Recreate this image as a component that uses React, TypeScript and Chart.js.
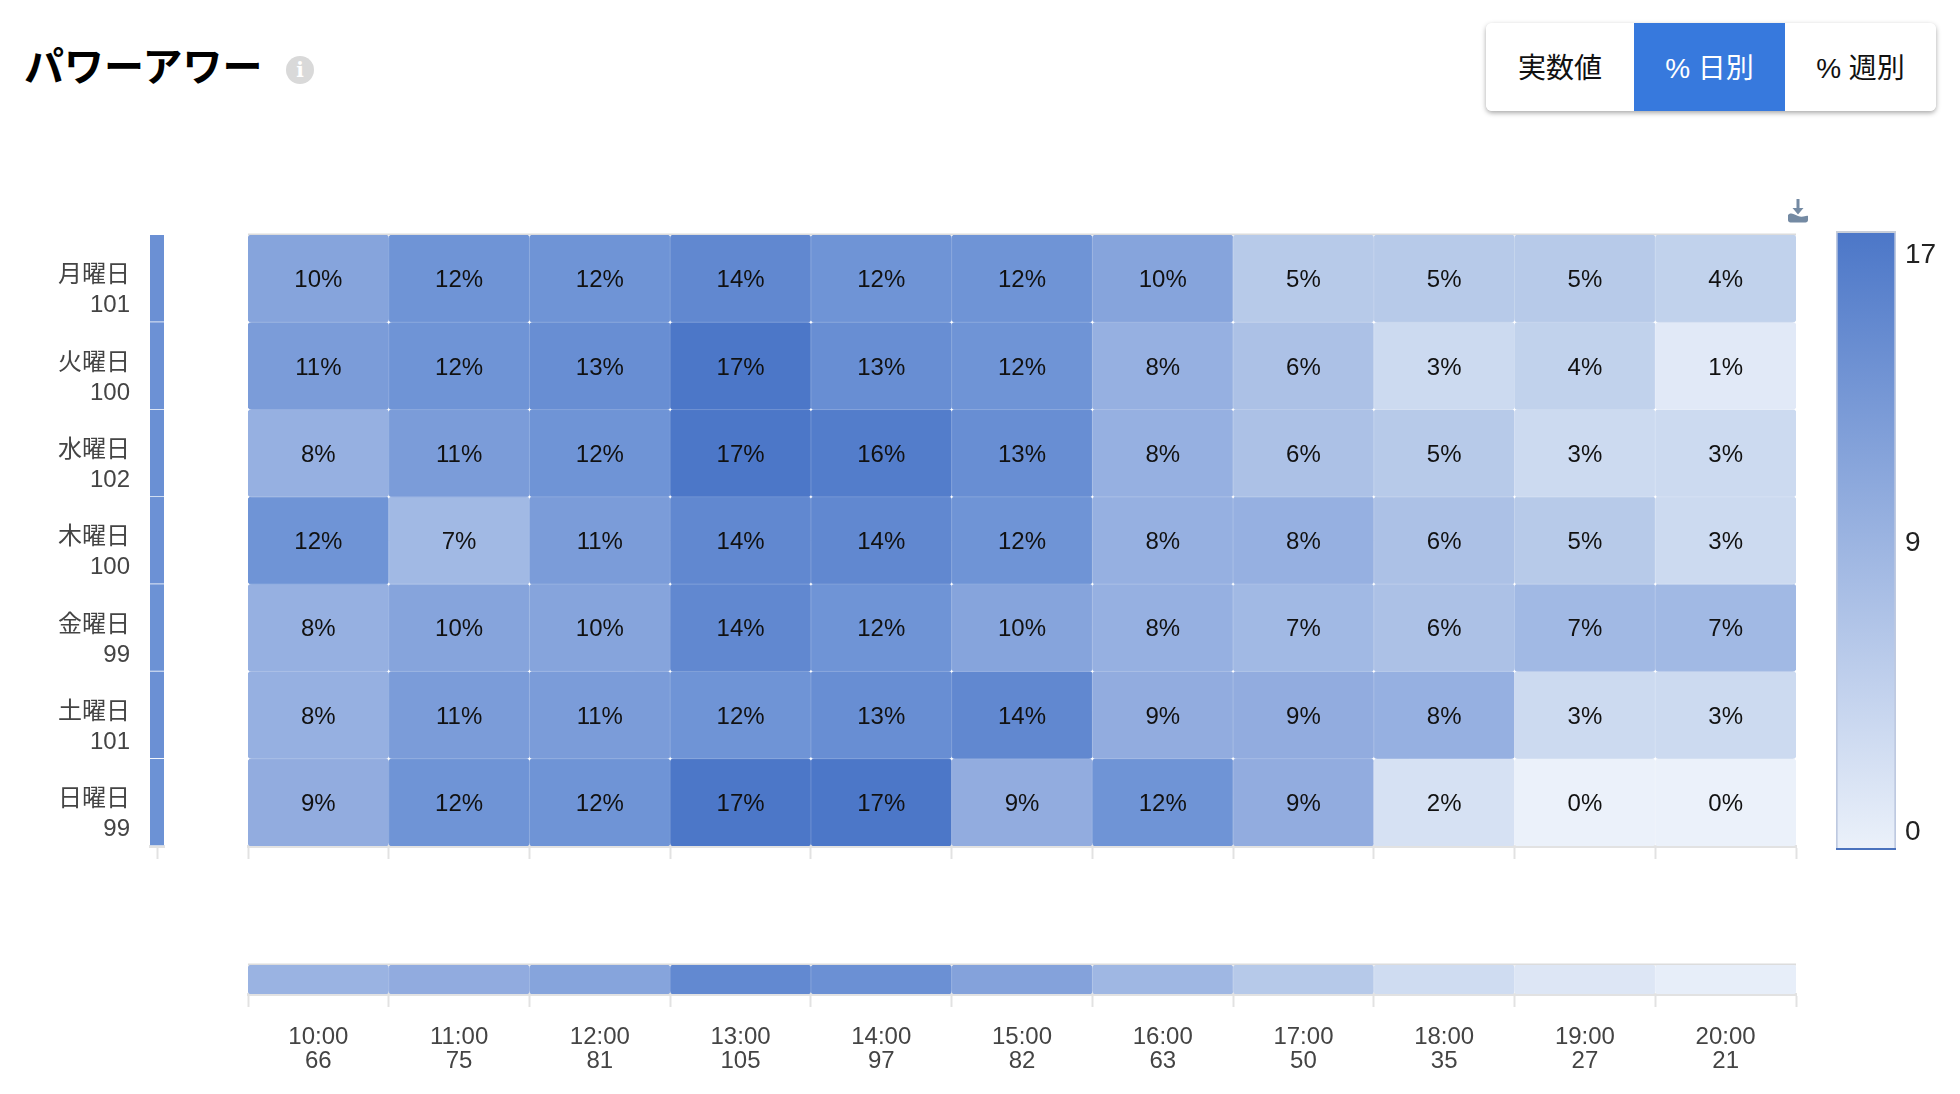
import { useEffect, useRef } from 'react';
import Chart from 'chart.js/auto';

const FONT = '"Liberation Sans", "Noto Sans CJK JP", sans-serif';
const GREY = '#e2e2e2';

const hours = ['10:00', '11:00', '12:00', '13:00', '14:00', '15:00', '16:00', '17:00', '18:00', '19:00', '20:00'];
const hourTotals = [66, 75, 81, 105, 97, 82, 63, 50, 35, 27, 21];
const days = ['月曜日', '火曜日', '水曜日', '木曜日', '金曜日', '土曜日', '日曜日'];
const dayTotals = [101, 100, 102, 100, 99, 101, 99];

const monday = [10, 12, 12, 14, 12, 12, 10, 5, 5, 5, 4];
const tuesday = [11, 12, 13, 17, 13, 12, 8, 6, 3, 4, 1];
const wednesday = [8, 11, 12, 17, 16, 13, 8, 6, 5, 3, 3];
const thursday = [12, 7, 11, 14, 14, 12, 8, 8, 6, 5, 3];
const friday = [8, 10, 10, 14, 12, 10, 8, 7, 6, 7, 7];
const saturday = [8, 11, 11, 12, 13, 14, 9, 9, 8, 3, 3];
const sunday = [9, 12, 12, 17, 17, 9, 12, 9, 2, 0, 0];
const rows = [monday, tuesday, wednesday, thursday, friday, saturday, sunday];

const legendTicks = [0, 8.5, 17];

// colour ramp
const stopValues = [0, 5, 8, 9, 12, 17];
const stopColors = [
  [235, 241, 250],
  [183, 202, 233],
  [150, 176, 225],
  [146, 172, 223],
  [111, 148, 214],
  [76, 119, 200],
];

function heatColor(v: number) {
  let i = 0;
  while (i < stopValues.length - 2 && v > stopValues[i + 1]) i++;
  const t = Math.min(1, Math.max(0, (v - stopValues[i]) / (stopValues[i + 1] - stopValues[i])));
  const c = stopColors[i].map((a, k) => Math.round(a + (stopColors[i + 1][k] - a) * t));
  return `rgb(${c[0]}, ${c[1]}, ${c[2]})`;
}

const hourColor = (v: number) => heatColor(((v - 21) / 84) * 13.5 + 0.4);
const dayColor = (v: number) => heatColor(v / 8);

const cellStyle = {
  barPercentage: 1,
  categoryPercentage: 1,
  grouped: false,
  borderRadius: 4,
  borderSkipped: false,
  borderWidth: 0,
};

const tickGrid = { drawOnChartArea: false, tickLength: 13, tickColor: GREY, tickWidth: 2 };
const axisBorder = { display: true, color: GREY, width: 3 };

const topLine = {
  id: 'topLine',
  beforeDatasetsDraw(chart: any) {
    const { ctx, chartArea } = chart;
    ctx.save();
    ctx.fillStyle = '#dcdcdc';
    ctx.fillRect(chartArea.left, chartArea.top - 1.5, chartArea.right - chartArea.left, 2);
    ctx.restore();
  },
};

// faint seams between the cells
const seams = {
  id: 'seams',
  afterDatasetsDraw(chart: any) {
    const { ctx, chartArea, scales } = chart;
    ctx.save();
    ctx.strokeStyle = 'rgba(255, 255, 255, 0.2)';
    ctx.lineWidth = 1;
    ctx.beginPath();
    for (let c = 1; c < hours.length; c++) {
      const x = (scales.x.getPixelForValue(c - 1) + scales.x.getPixelForValue(c)) / 2;
      ctx.moveTo(x, chartArea.top);
      ctx.lineTo(x, chartArea.bottom);
    }
    if (scales.y.max > 1) {
      for (let r = 1; r < rows.length; r++) {
        const y = scales.y.getPixelForValue(r);
        ctx.moveTo(chartArea.left, y);
        ctx.lineTo(chartArea.right, y);
      }
    }
    ctx.stroke();
    ctx.restore();
  },
};

const cellLabels = {
  id: 'cellLabels',
  afterDatasetsDraw(chart: any) {
    const { ctx } = chart;
    ctx.save();
    ctx.font = `24px ${FONT}`;
    ctx.fillStyle = '#111';
    ctx.textAlign = 'center';
    ctx.textBaseline = 'middle';
    rows.forEach((row, r) => {
      chart.getDatasetMeta(r).data.forEach((bar: any, c: number) => {
        const p = bar.getCenterPoint();
        ctx.fillText(`${row[c]}%`, p.x, p.y + 2);
      });
    });
    ctx.restore();
  },
};

const legendCaps = {
  id: 'legendCaps',
  afterDatasetsDraw(chart: any) {
    const { ctx, chartArea } = chart;
    const w = chartArea.right - chartArea.left;
    ctx.save();
    ctx.fillStyle = '#c8ced9';
    ctx.fillRect(chartArea.left, chartArea.top - 2, w, 2);
    ctx.fillStyle = '#4a72bd';
    ctx.fillRect(chartArea.left, chartArea.bottom - 2, w, 2);
    ctx.restore();
  },
};

function useChart(build: () => any) {
  const ref = useRef<HTMLCanvasElement>(null);
  useEffect(() => {
    if (!ref.current) return;
    const chart = new Chart(ref.current, build());
    return () => {
      chart.destroy();
    };
  }, []);
  return ref;
}

const heatConfig = () => ({
  type: 'bar',
  plugins: [topLine, seams, cellLabels],
  data: {
    labels: hours,
    datasets: rows.map((row, r) => ({
      ...cellStyle,
      label: days[r],
      data: row.map(() => [r, r + 1]),
      backgroundColor: row.map(heatColor),
    })),
  },
  options: {
    responsive: false,
    animation: false,
    layout: { padding: { left: 2, right: 2, top: 2 } },
    plugins: { legend: { display: false }, tooltip: { enabled: false } },
    scales: {
      x: {
        grid: tickGrid,
        border: axisBorder,
        ticks: { display: false },
        afterFit: (s: any) => {
          s.height = 15;
        },
      },
      y: { display: false, min: 0, max: rows.length, reverse: true },
    },
  },
});

const hourConfig = () => ({
  type: 'bar',
  plugins: [topLine, seams],
  data: {
    labels: hours.map((h, i) => [h, String(hourTotals[i])]),
    datasets: [
      {
        ...cellStyle,
        label: 'total',
        data: hours.map(() => [0, 1]),
        backgroundColor: hourTotals.map(hourColor),
      },
    ],
  },
  options: {
    responsive: false,
    animation: false,
    layout: { padding: { left: 2, right: 2, top: 2 } },
    plugins: { legend: { display: false }, tooltip: { enabled: false } },
    scales: {
      x: {
        grid: tickGrid,
        border: axisBorder,
        ticks: { color: '#444', font: { size: 24, family: FONT, lineHeight: 1 }, padding: 18, maxRotation: 0, autoSkip: false },
        afterFit: (s: any) => {
          s.height = 100;
        },
      },
      y: { display: false, min: 0, max: 1 },
    },
  },
});

const dayConfig = () => ({
  type: 'bar',
  data: {
    labels: [''],
    datasets: dayTotals.map((t, r) => ({
      ...cellStyle,
      borderRadius: 0,
      borderWidth: { bottom: 1 },
      borderColor: 'rgba(255, 255, 255, 0.35)',
      label: days[r],
      data: [[r, r + 1]],
      backgroundColor: dayColor(t),
    })),
  },
  options: {
    responsive: false,
    animation: false,
    layout: { padding: { right: 2, top: 2 } },
    plugins: { legend: { display: false }, tooltip: { enabled: false } },
    scales: {
      x: {
        grid: { ...tickGrid, offset: false },
        border: axisBorder,
        ticks: { display: false },
        afterFit: (s: any) => {
          s.height = 15;
        },
      },
      y: {
        min: 0,
        max: rows.length,
        reverse: true,
        grid: { display: false, drawTicks: false },
        border: { display: false },
        // labels sit a little under the middle of their row
        afterBuildTicks: (s: any) => {
          s.ticks = days.map((_, i) => ({ value: i + 0.64 }));
        },
        ticks: {
          autoSkip: false,
          padding: 20,
          color: '#444',
          font: { size: 24, family: FONT, lineHeight: 1.25 },
          callback: (_: any, i: number) => [days[i], String(dayTotals[i])],
        },
        afterFit: (s: any) => {
          s.width = 150;
          s.paddingTop = 0;
          s.paddingBottom = 0;
        },
      },
    },
  },
});

const legendMin = -0.53;
const legendMax = 17.66;

const legendConfig = () => ({
  type: 'bar',
  plugins: [legendCaps],
  data: {
    labels: [''],
    datasets: [
      {
        barPercentage: 1,
        categoryPercentage: 1,
        label: 'scale',
        data: [[legendMin, legendMax]],
        borderSkipped: false,
        borderWidth: { left: 2, right: 2, top: 0, bottom: 0 },
        borderColor: 'rgba(70, 100, 165, 0.35)',
        backgroundColor: (c: any) => {
          const area = c.chart.chartArea;
          if (!area) return heatColor(9);
          const g = c.chart.ctx.createLinearGradient(0, area.top, 0, area.bottom);
          g.addColorStop(0, heatColor(17));
          g.addColorStop(1, heatColor(0));
          return g;
        },
      },
    ],
  },
  options: {
    responsive: false,
    animation: false,
    layout: { padding: { top: 2 } },
    plugins: { legend: { display: false }, tooltip: { enabled: false } },
    scales: {
      x: { display: false },
      y: {
        position: 'right',
        min: legendMin,
        max: legendMax,
        grid: { display: false, drawTicks: false },
        border: { display: false },
        afterBuildTicks: (s: any) => {
          s.ticks = legendTicks.map((v) => ({ value: v }));
        },
        ticks: {
          autoSkip: false,
          padding: 9,
          color: '#222',
          font: { size: 28, family: FONT },
          callback: (v: number) => String(Math.round(v)),
        },
        afterFit: (s: any) => {
          s.width = 64;
          s.paddingTop = 0;
          s.paddingBottom = 0;
        },
      },
    },
  },
});

const abs = (left: number, top: number) => ({ position: 'absolute' as const, left, top });

const buttonStyle = (width: number, active: boolean) => ({
  width,
  height: 88,
  lineHeight: '92px',
  textAlign: 'center' as const,
  fontSize: 28,
  background: active ? '#3779dd' : '#fff',
  color: active ? '#fff' : '#111',
});

export default function App() {
  const heatRef = useChart(heatConfig);
  const hourRef = useChart(hourConfig);
  const dayRef = useChart(dayConfig);
  const legendRef = useChart(legendConfig);

  return (
    <div style={{ position: 'fixed', inset: 0, background: '#fff', overflow: 'hidden', fontFamily: FONT }}>
      <div style={{ ...abs(24, 37), fontSize: 40, fontWeight: 700, lineHeight: '54px', color: '#000', fontFamily: '"Noto Sans CJK JP", sans-serif' }}>
        パワーアワー
      </div>
      <div
        style={{
          ...abs(286, 56),
          width: 28,
          height: 28,
          borderRadius: 14,
          background: '#d9d9d9',
          color: '#fff',
          fontSize: 20,
          fontWeight: 700,
          lineHeight: '28px',
          textAlign: 'center',
          fontFamily: '"DejaVu Serif", serif',
        }}
      >
        i
      </div>

      <div
        style={{
          ...abs(1486, 23),
          display: 'flex',
          borderRadius: 6,
          overflow: 'hidden',
          boxShadow: '0 2px 5px rgba(0, 0, 0, 0.35)',
        }}
      >
        <div style={buttonStyle(148, false)}>実数値</div>
        <div style={buttonStyle(151, true)}>% 日別</div>
        <div style={buttonStyle(151, false)}>% 週別</div>
      </div>

      <svg style={abs(1787, 199)} width="22" height="24" viewBox="0 0 22 24">
        <path d="M9.500 0h3v9h4l-5.500 6.500L5.500 9h4z" fill="#748aa3" />
        <path d="M1 16c3-3 5-1 10 1s8-1 10 0v4c0 1.500-1 2.500-2.500 2.500h-15C2 23.500 1 22.500 1 21z" fill="#748aa3" />
      </svg>

      <canvas ref={dayRef} width={166} height={628} style={abs(0, 233)} />
      <canvas ref={heatRef} width={1552} height={628} style={abs(246, 233)} />
      <canvas ref={hourRef} width={1552} height={131} style={abs(246, 963)} />
      <canvas ref={legendRef} width={124} height={619} style={abs(1836, 231)} />
    </div>
  );
}
